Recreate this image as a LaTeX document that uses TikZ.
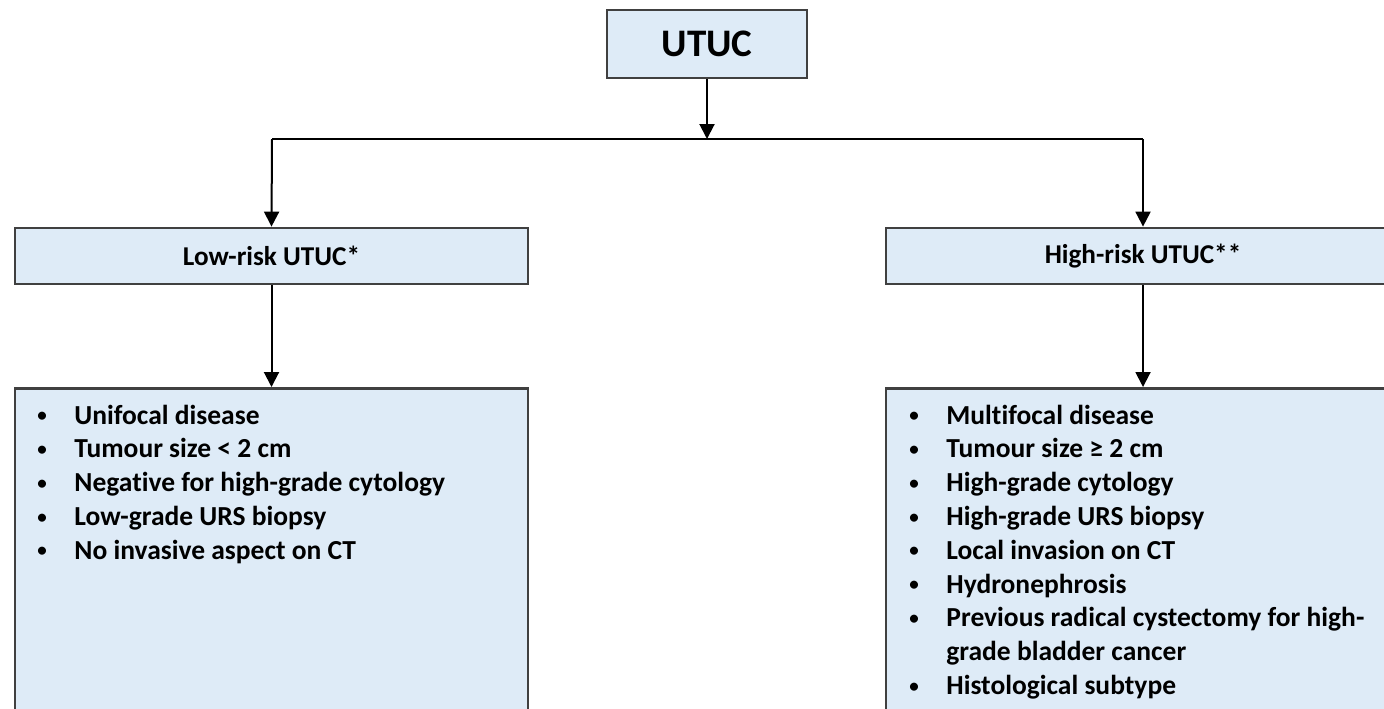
\documentclass[tikz,border=0pt]{standalone}
\usepackage{fontspec}
\setmainfont[Ligatures=NoCommon]{Carlito}
\usetikzlibrary{arrows.meta}
\definecolor{boxfill}{HTML}{DEEBF7}
\definecolor{boxline}{HTML}{404040}
\newcommand{\blt}{\hspace*{2pt}\raisebox{1.2pt}{\fontsize{9.5pt}{10pt}\selectfont\textbullet}}
\begin{document}
\begin{tikzpicture}[x=0.5pt,y=-0.5pt,
  box/.style={draw=boxline,line width=1.4pt,fill=boxfill,inner sep=0pt,rectangle},
  conn/.style={draw=black,line width=1pt},
  arr/.style={conn,-{Triangle[width=7.5pt,length=7.5pt]}},
  listtext/.style={anchor=base west,inner sep=0pt,align=left,font=\bfseries\fontsize{13.75pt}{16.9pt}\selectfont}
]
\useasboundingbox (0,0) rectangle (1384,708);
\clip (0,0) rectangle (1384,708);
% boxes
\node[box,minimum width=100pt,minimum height=34pt,font=\bfseries\fontsize{19.5pt}{23pt}\selectfont] (utuc) at (707,44) {UTUC};
\node[box,minimum width=256.5pt,minimum height=28pt,font=\bfseries\fontsize{13.6pt}{16pt}\selectfont] (low) at (271.5,256) {Low-risk UTUC*};
\node[box,minimum width=257pt,minimum height=28pt,font=\bfseries\fontsize{13.6pt}{16pt}\selectfont] (high) at (1143,256) {High-risk UTUC**};
\node[box,minimum width=256.5pt,minimum height=180pt,anchor=north] (lowlist) at (271.5,387) {};
\node[box,minimum width=257pt,minimum height=180pt,anchor=north] (highlist) at (1143,387) {};
% list texts
\node[listtext] (lowtext) at (33,424) {\begin{tabular}[t]{@{}p{20.5pt}@{}l@{}}
\blt & Unifocal disease\\
\blt & Tumour size < 2 cm\\
\blt & Negative for high-grade cytology\\
\blt & Low-grade URS biopsy\\
\blt & No invasive aspect on CT
\end{tabular}};
\node[listtext] (hightext) at (905,424) {\begin{tabular}[t]{@{}p{20.5pt}@{}l@{}}
\blt & Multifocal disease\\
\blt & Tumour size ≥ 2 cm\\
\blt & High-grade cytology\\
\blt & High-grade URS biopsy\\
\blt & Local invasion on CT\\
\blt & Hydronephrosis\\
\blt & Previous radical cystectomy for high-\\
 & grade bladder cancer\\
\blt & Histological subtype
\end{tabular}};
% connectors
\coordinate (hub) at (707,139);
\coordinate (hl) at (272,139);
\coordinate (hr) at (1143,139);
\draw[arr] (utuc.south) -- (hub);
\draw[conn] (hl) -- (hr);
\draw[arr] (hl) -- (low.north);
\draw[arr] (hr) -- (high.north);
\draw[arr] (low.south) -- (lowlist.north);
\draw[arr] (high.south) -- (highlist.north);
\end{tikzpicture}
\end{document}
